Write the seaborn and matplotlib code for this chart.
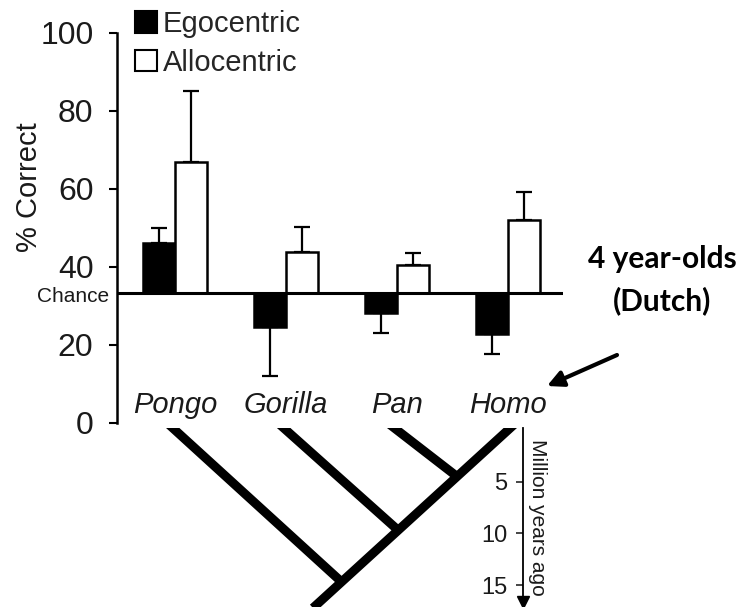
import matplotlib
matplotlib.use("Agg")
import matplotlib.pyplot as plt
import seaborn as sns
import pandas as pd
import numpy as np
from matplotlib.patches import Patch
from matplotlib.transforms import blended_transform_factory

# ---------------- data ----------------
species = ["Pongo", "Gorilla", "Pan", "Homo"]
conditions = ["Egocentric", "Allocentric"]
ego_pct = [46.2, 24.6, 28.2, 22.8]
allo_pct = [66.9, 43.9, 40.5, 52.0]
ego_err_end = [50.0, 12.1, 23.1, 17.7]
allo_err_end = [85.1, 50.3, 43.6, 59.2]
chance = 100.0 / 3.0
y_ticks = [0, 20, 40, 60, 80, 100]
split_mya = [14.7, 9.7, 4.5]          # Pongo, Gorilla, Pan split from Homo lineage
time_ticks = [5, 10, 15]
annotation = "4 year-olds\n(Dutch)"

# ---------------- style ----------------
sns.set_theme(style="white")
plt.rcParams['font.family'] = ['Liberation Sans', 'DejaVu Sans']

W, H = 746, 607
fig = plt.figure(figsize=(W / 100, H / 100), dpi=100)

c0, pitch = 175.0, 111.0             # pixel position of category 0, pixels per category
def cat(xpx):
    return (xpx - c0) / pitch

# ---------------- bar chart ----------------
ax_l, ax_r, ax_b, ax_t = 117, 563, 423, 33
ax = fig.add_axes([ax_l / W, 1 - ax_b / H, (ax_r - ax_l) / W, (ax_b - ax_t) / H])
px_per_pct = (ax_b - ax_t) / 100.0

df = pd.DataFrame({
    "species": species * 2,
    "condition": [conditions[0]] * 4 + [conditions[1]] * 4,
    "pct": ego_pct + allo_pct,
})
df["delta"] = df["pct"] - chance

sns.barplot(data=df, x="species", y="delta", hue="condition", order=species,
            hue_order=conditions, palette={"Egocentric": "black", "Allocentric": "white"},
            width=0.58, errorbar=None, edgecolor="black", linewidth=1.8,
            bottom=chance, legend=False, ax=ax, zorder=2)

off = 0.58 / 4
xs = np.arange(len(species))
for vals, ends, sgn in [(ego_pct, ego_err_end, -1), (allo_pct, allo_err_end, 1)]:
    vals = np.array(vals); ends = np.array(ends)
    lower = np.where(ends < vals, vals - ends, 0)
    upper = np.where(ends > vals, ends - vals, 0)
    ax.errorbar(xs + sgn * off, vals, yerr=[lower, upper], fmt="none", ecolor="black",
                elinewidth=1.6, capsize=6, capthick=1.6, zorder=1)

ax.axhline(chance, color="black", lw=2.2, zorder=3)

ax.set_xlim(cat(ax_l), cat(ax_r))
ax.set_ylim(0, 100)
ax.set_xticks([])
ax.set_xlabel("")
ax.set_yticks(y_ticks)
ax.tick_params(axis="y", left=True, direction="out", length=6, width=1.5,
               labelsize=23, pad=11, labelcolor="#1a1a1a", color="black")
for s in ["top", "right", "bottom"]:
    ax.spines[s].set_visible(False)
ax.spines["left"].set_linewidth(1.8)
ax.spines["left"].set_color("black")

ax.set_ylabel("% Correct", fontsize=21, color="#1a1a1a")
ax.yaxis.set_label_coords((43 - ax_l) / (ax_r - ax_l), (ax_b - 187) / (ax_b - ax_t))

tr = blended_transform_factory(ax.transAxes, ax.transData)
ax.text((109 - ax_l) / (ax_r - ax_l), chance - 9.5 / px_per_pct, "Chance", transform=tr,
        ha="right", va="baseline", fontsize=15, color="#1a1a1a")

for i, sp in enumerate(species):
    ax.text(i, 4.6, sp, ha="center", va="center", fontsize=21, style="italic",
            color="#1a1a1a")

handles = [Patch(facecolor="black", edgecolor="black", lw=1.5),
           Patch(facecolor="white", edgecolor="black", lw=1.5)]
ax.legend(handles=handles, labels=conditions, loc="upper left",
          bbox_to_anchor=((135 - ax_l) / (ax_r - ax_l), (ax_b - 10) / (ax_b - ax_t)),
          frameon=False, fontsize=21, handlelength=0.75, handleheight=0.75,
          handletextpad=0.2, labelspacing=0.37, borderaxespad=0, borderpad=0)

# ---------------- phylogeny ----------------
tr_l, tr_r, tr_t = 117, 523, 428
tree = fig.add_axes([tr_l / W, 0, (tr_r - tr_l) / W, (H - tr_t) / H])
px_per_my = 10.33
tree.set_xlim(cat(tr_l), cat(tr_r))
tree.set_ylim((H - tr_t) / px_per_my - 0.2, -0.2)
tree.axis("off")

k = 0.102                              # category units per Myr along Homo lineage
homo_x = len(species) - 1
def homo_line(t):
    return homo_x - k * t
t_line = np.array([-1.0, 20.0])
tree.plot(homo_line(t_line), t_line, color="black", lw=6.5, solid_capstyle="butt")
for i, t in enumerate(split_mya):
    xj = homo_line(t)
    slope = (xj - i) / t
    tt = np.array([-1.0, t])
    tree.plot(i + slope * tt, tt, color="black", lw=6.5, solid_capstyle="butt")

# time axis
tax = fig.add_axes([tr_r / W, 0, 0.001, (H - tr_t) / H], sharey=tree)
for s in ["top", "right", "bottom"]:
    tax.spines[s].set_visible(False)
tax.spines["left"].set_linewidth(1.3)
tax.spines["left"].set_color("black")
tax.spines["left"].set_bounds(-0.2, 16.2)
tax.set_xticks([])
tax.set_yticks(time_ticks)
tax.tick_params(axis="y", left=True, direction="out", length=5, width=1.2,
                labelsize=17, pad=6, labelcolor="#1a1a1a")
tax.plot([0], [16.6], marker="v", color="black", markersize=8, clip_on=False)
tax.set_xlim(-1, 1)
fig.text(538 / W, 1 - 517 / H, "Million years ago", rotation=-90, ha="center",
         va="center", fontsize=15, color="#1a1a1a")

# ---------------- annotation ----------------
fig.text(662 / W, 1 - 280 / H, annotation, ha="center", va="center", fontsize=21.5,
         fontweight="bold", family=["Lato", "DejaVu Sans"], linespacing=1.55,
         color="black")
ax.annotate("", xy=(547, H - 386), xytext=(617, H - 355), xycoords="figure pixels",
            textcoords="figure pixels",
            arrowprops=dict(arrowstyle="-|>", lw=3, color="black", mutation_scale=24,
                            shrinkA=0, shrinkB=0))

fig.savefig("out.png", dpi=100)
